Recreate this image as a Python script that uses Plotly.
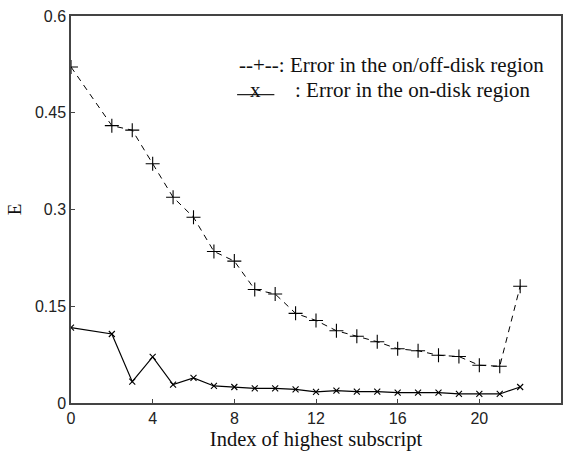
import plotly.graph_objects as go

# Highest subscript index used in the expansion
index = [0, 2, 3, 4, 5, 6, 7, 8, 9, 10, 11, 12, 13, 14, 15, 16, 17, 18, 19, 20, 21, 22]

# Error over the on/off-disk region
err_on_off = [0.521, 0.430, 0.423, 0.371, 0.319, 0.288, 0.235, 0.220, 0.176, 0.169,
              0.139, 0.128, 0.112, 0.1035, 0.095, 0.084, 0.081, 0.074, 0.072, 0.0585,
              0.057, 0.181]

# Error over the on-disk region
err_on = [0.117, 0.107, 0.033, 0.0714, 0.0285, 0.0388, 0.0264, 0.0248, 0.0228, 0.0228,
          0.0212, 0.0171, 0.0192, 0.0177, 0.0177, 0.016, 0.016, 0.016, 0.014, 0.014,
          0.014, 0.0248]

x_ticks = [0, 4, 8, 12, 16, 20, 24]
y_ticks = [0, 0.15, 0.3, 0.45, 0.6]
y_tick_text = ["0", "0.15", "0.3", "0.45", "0.6"]

legend_on_off = "--+--: Error in the on/off-disk region"
legend_on = ": Error in the on-disk region"

fig = go.Figure()

fig.add_trace(go.Scatter(
    x=index, y=err_on_off, mode="lines+markers",
    line=dict(color="black", width=1, dash="6px,5px"),
    marker=dict(symbol="cross-thin", size=10, line=dict(color="black", width=1.1)),
    showlegend=False,
))

fig.add_trace(go.Scatter(
    x=index, y=err_on, mode="lines+markers",
    line=dict(color="black", width=1.2),
    marker=dict(symbol="x-thin", size=6, line=dict(color="black", width=1.1)),
    showlegend=False,
))

serif = "Liberation Serif, Times New Roman, serif"
sans = "Liberation Sans, Arial, sans-serif"

axis_common = dict(
    showline=True, linecolor="#444", linewidth=1.5, mirror=True,
    ticks="inside", ticklen=4, tickwidth=1, tickcolor="#444",
    showgrid=False, zeroline=False, automargin=False,
    tickfont=dict(family=sans, size=16, color="#222"),
)

fig.update_xaxes(
    range=[0, 24], tickvals=x_ticks,
    title=dict(text="Index of highest subscript", font=dict(family=serif, size=20.5, color="#111"), standoff=6),
    **axis_common,
)
fig.update_yaxes(
    range=[0, 0.6], tickvals=y_ticks, ticktext=y_tick_text,
    title=dict(text="E", font=dict(family=serif, size=19, color="#111"), standoff=8),
    **axis_common,
)

# Hand-drawn legend block in the upper right of the plot area
fig.add_annotation(
    xref="paper", yref="paper", x=0.339, y=0.873, xanchor="left", yanchor="middle",
    text=legend_on_off, showarrow=False,
    font=dict(family=serif, size=21, color="#111"),
)
fig.add_shape(
    type="line", xref="paper", yref="paper",
    x0=0.339, x1=0.415, y0=0.797, y1=0.797,
    line=dict(color="#222", width=1.2),
)
fig.add_annotation(
    xref="paper", yref="paper", x=0.377, y=0.808, xanchor="center", yanchor="middle",
    text="x", showarrow=False,
    font=dict(family=serif, size=21, color="#111"),
)
fig.add_annotation(
    xref="paper", yref="paper", x=0.453, y=0.809, xanchor="left", yanchor="middle",
    text=legend_on, showarrow=False,
    font=dict(family=serif, size=21, color="#111"),
)

fig.update_layout(
    width=568, height=452,
    margin=dict(l=71, r=7, t=16, b=49),
    paper_bgcolor="white", plot_bgcolor="white",
)

fig.write_html("out.html")
